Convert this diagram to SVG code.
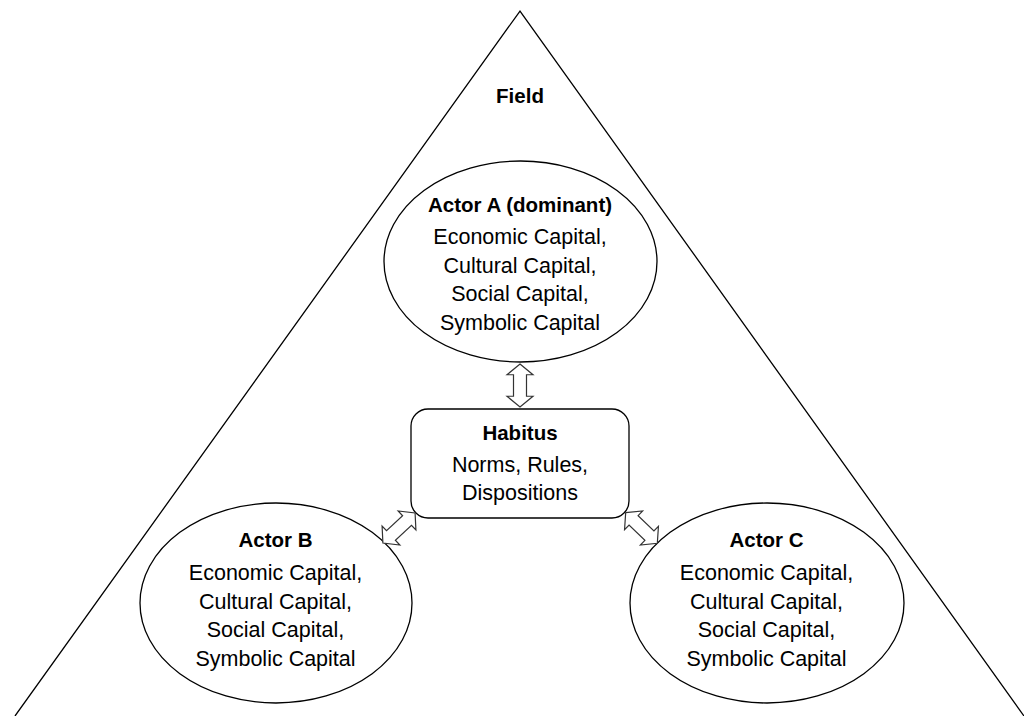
<svg xmlns="http://www.w3.org/2000/svg" width="1024" height="716" viewBox="0 0 1024 716">
<style>
.shape{fill:#fff;stroke:#000;stroke-width:1.3}
.t{font-family:"Liberation Sans",Arial,sans-serif;font-size:21.5px;fill:#000;text-anchor:middle}
.b{font-weight:bold;font-size:20.5px}
.arr{fill:#fff;stroke:#333;stroke-width:1.2;stroke-linejoin:miter}
</style>
<defs>
<path id="dbl" d="M -22 0 L -11 -13 L -11 -6.5 L 11 -6.5 L 11 -13 L 22 0 L 11 13 L 11 6.5 L -11 6.5 L -11 13 Z"/>
</defs>
<rect width="1024" height="716" fill="#fff"/>
<g id="field">
<polyline points="15,716 520,11 1024,716" fill="none" stroke="#000" stroke-width="1.3"/>
<text class="t b" x="520" y="103">Field</text>
</g>
<g id="actorA">
<ellipse class="shape" cx="520.5" cy="261.5" rx="136.5" ry="100.5"/>
<text class="t b" x="520" y="212">Actor A (dominant)</text>
<text class="t" x="520" y="244">Economic Capital,</text>
<text class="t" x="520" y="272.5">Cultural Capital,</text>
<text class="t" x="520" y="301">Social Capital,</text>
<text class="t" x="520" y="329.5">Symbolic Capital</text>
</g>
<g id="habitus">
<rect class="shape" x="411" y="409" width="218" height="109" rx="17" ry="17"/>
<text class="t b" x="520" y="440">Habitus</text>
<text class="t" x="520" y="472">Norms, Rules,</text>
<text class="t" x="520" y="500">Dispositions</text>
</g>
<g id="actorB">
<ellipse class="shape" cx="276" cy="603" rx="136" ry="100"/>
<text class="t b" x="275.5" y="547">Actor B</text>
<text class="t" x="275.5" y="580">Economic Capital,</text>
<text class="t" x="275.5" y="608.5">Cultural Capital,</text>
<text class="t" x="275.5" y="637">Social Capital,</text>
<text class="t" x="275.5" y="665.5">Symbolic Capital</text>
</g>
<g id="actorC">
<ellipse class="shape" cx="767" cy="603" rx="137" ry="100"/>
<text class="t b" x="766.5" y="547">Actor C</text>
<text class="t" x="766.5" y="580">Economic Capital,</text>
<text class="t" x="766.5" y="608.5">Cultural Capital,</text>
<text class="t" x="766.5" y="637">Social Capital,</text>
<text class="t" x="766.5" y="665.5">Symbolic Capital</text>
</g>
<g id="connectors">
<use href="#dbl" class="arr" transform="translate(520,385.5) rotate(90) scale(0.98,1)"/>
<use href="#dbl" class="arr" transform="translate(399,528) rotate(-43)"/>
<use href="#dbl" class="arr" transform="translate(641.5,528) rotate(44)"/>
</g>
</svg>
